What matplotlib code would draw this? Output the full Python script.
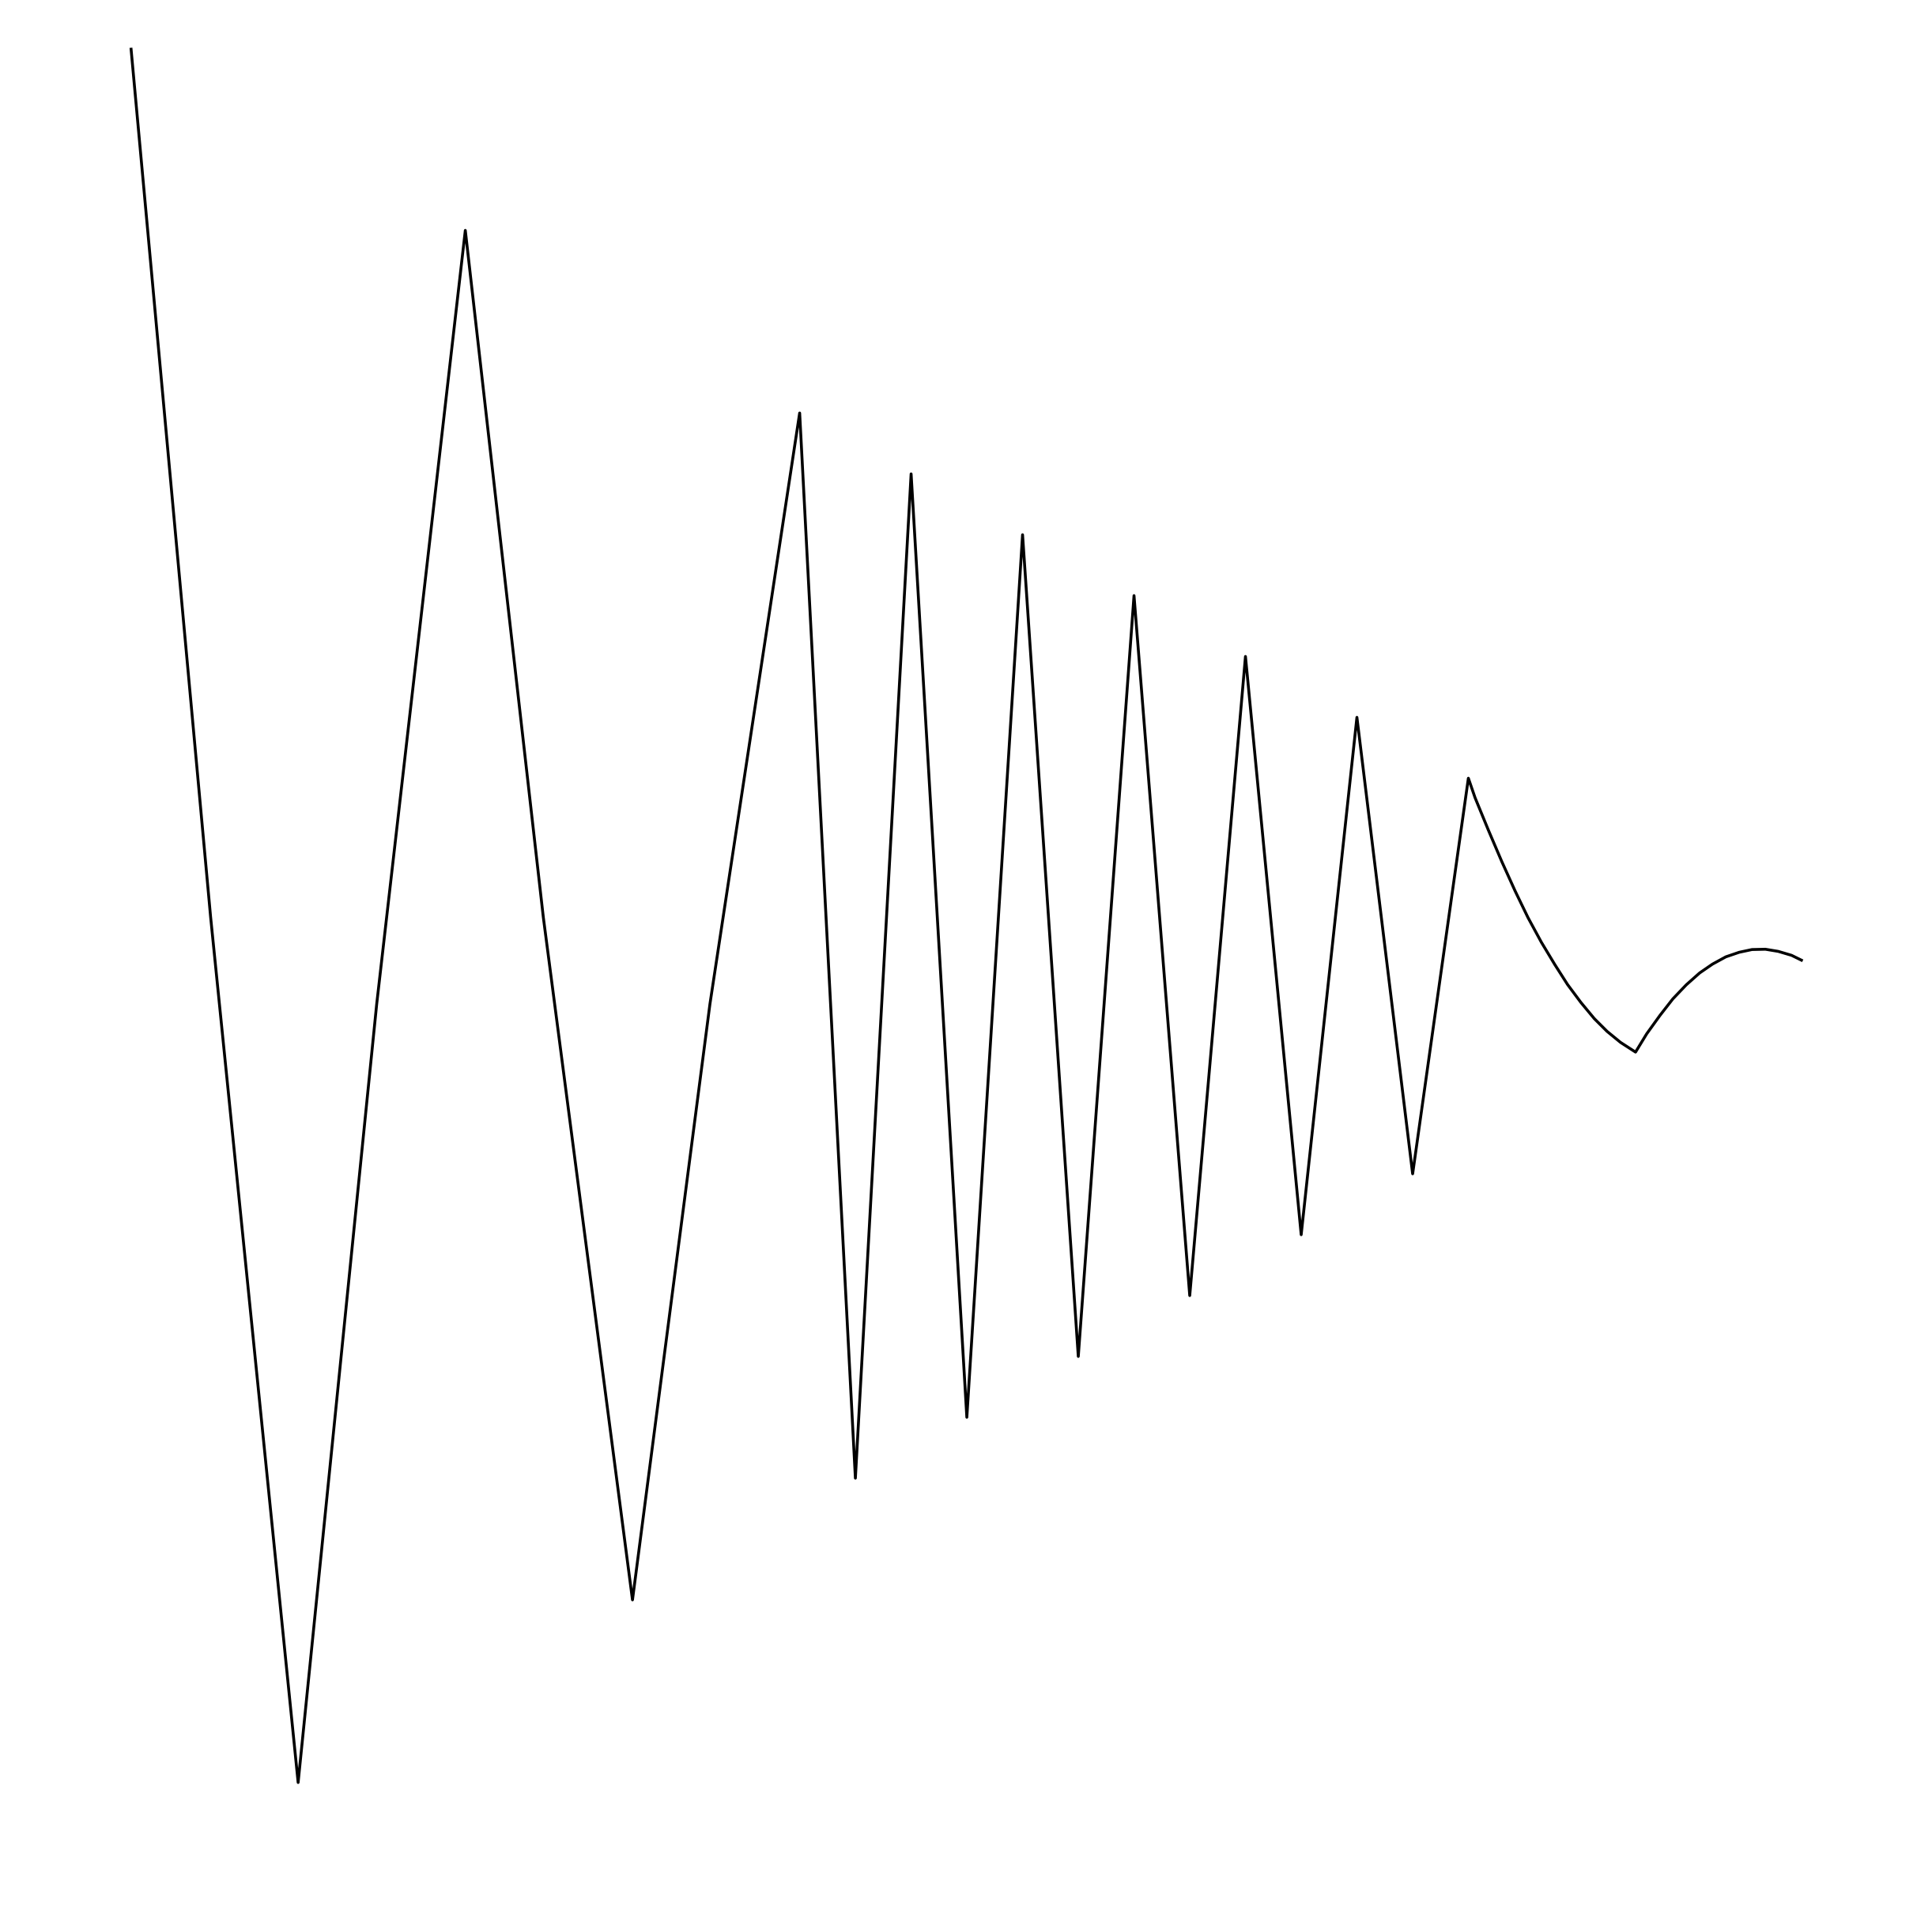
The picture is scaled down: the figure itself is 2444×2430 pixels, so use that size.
import numpy as np
import matplotlib
matplotlib.use('Agg')
import matplotlib.pyplot as plt

# zigzag part: turning points plus one read-off point on each wide leg
zig_t = [0, 1.43, 3, 4.41, 6, 7.40, 9, 10.39, 12,
         13, 14, 15, 16, 17, 18, 19, 20, 21, 22, 23]
zig_y = [30, 1.43, -27, -1.42, 24, 1.43, -21, -1.42, 18,
         -17, 16, -15, 14, -13, 12, -11, 10, -9, 8, -7]

# curved tail, points
tail_t = [24, 24.12, 24.36, 24.60, 24.84, 25.07, 25.31, 25.55, 25.78,
          26.02, 26.26, 26.49, 26.73, 27, 27.20, 27.44, 27.67, 27.91,
          28.15, 28.38, 28.62, 28.86, 29.09, 29.33, 29.56, 29.80, 30]
tail_y = [6, 5.36, 4.29, 3.26, 2.29, 1.42, 0.61, -0.12, -0.78,
          -1.37, -1.90, -2.32, -2.68, -3, -2.40, -1.79, -1.25, -0.79,
          -0.40, -0.11, 0.13, 0.28, 0.37, 0.38, 0.31, 0.18, 0]

t = np.array(zig_t + tail_t)
y = np.array(zig_y + tail_y)

fig = plt.figure(figsize=(12.22, 12.15), dpi=200)
ax = fig.add_axes([0, 0, 1, 1])
ax.plot(t, y, color='black', lw=1.3, solid_joinstyle='round', solid_capstyle='butt')
ax.set_xlim(-2.35, 32.32)
ax.set_ylim(-31.55, 31.57)
ax.axis('off')

fig.savefig('out.png', dpi=200, facecolor='white')
